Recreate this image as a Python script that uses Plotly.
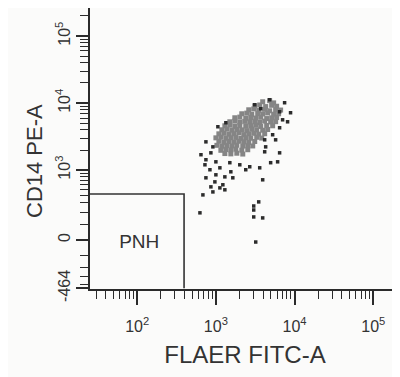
import numpy as np
import plotly.graph_objects as go

# ---- data (FLAER FITC-A, CD14 PE-A fluorescence values) ----
core_flaer = [3934, 4823, 5420,
              3116, 3604, 4293, 5113, 5915,
              2616, 3026, 3501, 4170, 4823, 5745, 6646,
              2133, 2468, 2855, 3400, 3934, 4550, 5420, 6270,
              1740, 2013, 2397, 2773, 3208, 3711, 4420, 5113, 5915,
              1504, 1740, 2013, 2328, 2693, 3116, 3604, 4170, 4966, 5745,
              1300, 1504, 1740, 2013, 2397, 2773, 3208, 3711, 4420, 5264,
              1191, 1378, 1595, 1845, 2133, 2468, 2855, 3303, 3934, 4550,
              1091, 1263, 1461, 1690, 1955, 2261, 2616, 3026, 3501, 4170,
              1000, 1157, 1339, 1549, 1792, 2072, 2397, 2773, 3303, 3821,
              1091, 1263, 1461, 1690, 1955, 2261, 2616, 3116,
              1030, 1191, 1378, 1595, 1845, 2196, 2541, 2939,
              1157, 1339, 1549, 1792, 2133, 2541,
              1300, 1549, 1845, 2196]
core_cd14 = [10500, 10900, 10100,
             9150, 9400, 8900, 9300, 9000,
             7970, 8200, 7800, 8100, 7700, 8000, 7900,
             6950, 7100, 6800, 7000, 6900, 7150, 6850, 6950,
             6060, 6200, 5950, 6100, 6000, 6150, 5900, 6050, 6100,
             5280, 5400, 5200, 5350, 5250, 5300, 5150, 5400, 5250, 5300,
             4600, 4700, 4500, 4650, 4550, 4600, 4700, 4500, 4650, 4600,
             4010, 4100, 3950, 4050, 4000, 3900, 4100, 4000, 3950, 4050,
             3490, 3550, 3450, 3500, 3600, 3400, 3500, 3550, 3450, 3500,
             3040, 3100, 3000, 3050, 3080, 2980, 3050, 3000, 3100, 3020,
             2700, 2600, 2680, 2620, 2700, 2650, 2600, 2680,
             2350, 2280, 2330, 2300, 2360, 2290, 2320, 2300,
             1980, 2030, 2000, 2060, 1990, 2020,
             1770, 1750, 1790, 1740]

sparse_flaer = [4823, 7470, 3116, 3711, 8890, 6455, 7046, 8151, 1339, 1060,
                6455, 5264, 4170, 5745, 747, 916, 4293, 646, 864, 6455,
                6090, 4966, 4170, 747, 1000, 1504, 2013, 2693, 3604, 726,
                1124, 1549, 2397, 840, 1000, 1300, 1641, 3934, 747, 971,
                1226, 864, 1124, 684, 916, 1300, 627, 3501, 3026, 3026,
                3026, 3934, 3208]
sparse_cd14 = [11250, 10150, 9480, 8260, 7200, 7450, 5650, 5280, 5110, 4450,
               4300, 3380, 2840, 2840, 2650, 2230, 2230, 1700, 1815, 1815,
               1330, 1290, 1880, 1430, 1330, 1290, 1200, 1120, 1080, 1200,
               1080, 940, 1010, 1010, 846, 787, 761, 709, 761, 659,
               594, 551, 531, 410, 458, 495, 196, 313, 265, 223,
               160, 152, -13]

# PNH gate (upper bounds) and axis ranges
gate_flaer_max = 394
gate_cd14_max = 425
cd14_min = -464
cd14_top = 262144
flaer_log_range = [1.40, 5.34]

x_major = [100, 1000, 10000, 100000]
x_major_text = ["10<sup>2</sup>", "10<sup>3</sup>", "10<sup>4</sup>", "10<sup>5</sup>"]
y_major = [-464, 0, 1000, 10000, 100000]
y_major_text = ["-464", "0", "10<sup>3</sup>", "10<sup>4</sup>", "10<sup>5</sup>"]

# ---- biexponential-like display transform for the CD14 axis ----
W = 183.0
def bx(v):
    return np.arcsinh(np.asarray(v, dtype=float) / W) / np.log(10)

x_minor = [m * 10 ** d for d in range(1, 6) for m in range(2, 10)]
y_minor = ([-100, -200, -300, -400] + list(range(100, 1000, 100)) +
           [m * 1000 for m in range(2, 10)] + [m * 10000 for m in range(2, 10)] +
           [200000])

ink = "#2b2b2b"
txt = "#333333"
font = "Liberation Sans, Arial, sans-serif"
fig = go.Figure()

xmin_val = 10 ** flaer_log_range[0]
fig.add_trace(go.Scatter(
    x=[xmin_val, gate_flaer_max, gate_flaer_max],
    y=bx([gate_cd14_max, gate_cd14_max, cd14_min]),
    mode="lines", line=dict(color=txt, width=1.6),
    hoverinfo="skip", showlegend=False))

fig.add_trace(go.Scatter(
    x=[106], y=bx([-20]), mode="text", text=["PNH"],
    textfont=dict(family=font, size=19, color=txt),
    showlegend=False, hoverinfo="skip"))

fig.add_trace(go.Scatter(
    x=core_flaer, y=bx(core_cd14), mode="markers",
    marker=dict(symbol="square", size=5, color="#858585", line=dict(width=0)),
    showlegend=False))
fig.add_trace(go.Scatter(
    x=sparse_flaer, y=bx(sparse_cd14), mode="markers",
    marker=dict(symbol="square", size=3.5, color=ink, line=dict(width=0)),
    showlegend=False))

fig.update_layout(
    width=400, height=377,
    margin=dict(l=82, r=8, t=0, b=96),
    paper_bgcolor="#fbfbfa", plot_bgcolor="#fbfbfa",
    font=dict(family=font, color=txt),
    annotations=[dict(
        text="CD14 PE-A", xref="paper", yref="paper", x=-0.177, y=0.456,
        xanchor="center", yanchor="middle", textangle=-90, showarrow=False,
        font=dict(size=22, family=font, color=txt))],
)
fig.update_xaxes(
    type="log", range=flaer_log_range, automargin=False,
    showgrid=False, zeroline=False,
    showline=True, linecolor=ink, linewidth=1.5, mirror=True,
    ticks="outside", ticklen=14, tickwidth=1.5, tickcolor=ink,
    tickmode="array", tickvals=x_major, ticktext=x_major_text,
    ticklabelstandoff=8,
    tickfont=dict(size=16, family=font, color=txt),
    minor=dict(ticks="outside", ticklen=8, tickwidth=1.3, tickcolor=ink,
               tickmode="array", tickvals=x_minor, showgrid=False),
    title=dict(text="FLAER FITC-A", font=dict(size=24, family=font, color=txt),
               standoff=12),
)
fig.update_yaxes(
    range=[float(bx(cd14_min)) - 0.010, float(bx(cd14_top))], automargin=False,
    showgrid=False, zeroline=False,
    showline=True, linecolor=ink, linewidth=1.5,
    ticks="outside", ticklen=12, tickwidth=1.5, tickcolor=ink,
    tickmode="array", tickvals=list(bx(y_major)), ticktext=y_major_text,
    tickangle=-90, ticklabelstandoff=0,
    tickfont=dict(size=16, family=font, color=txt),
    minor=dict(ticks="outside", ticklen=8, tickwidth=1.3, tickcolor=ink,
               tickmode="array", tickvals=list(bx(y_minor)), showgrid=False),
)

fig.write_html("out.html")
